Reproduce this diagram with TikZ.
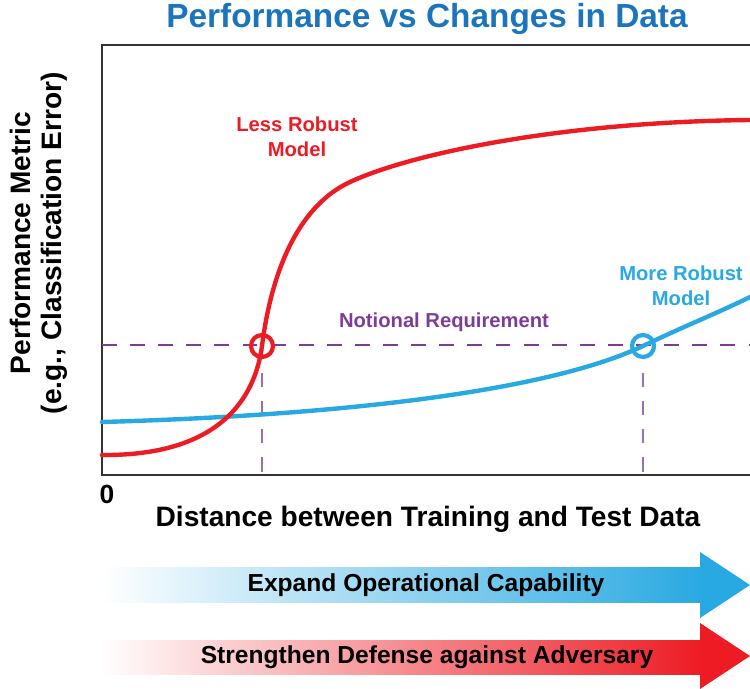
\documentclass[tikz,border=0pt]{standalone}
\usepackage{fontspec}
\setmainfont{Liberation Sans}
\definecolor{titleblue}{HTML}{1B75BC}
\definecolor{robblue}{HTML}{29A9E1}
\definecolor{lessred}{HTML}{ED1C24}
\definecolor{reqpurple}{HTML}{7D3C98}
\definecolor{axisgray}{HTML}{333333}
\tikzset{
  axisline/.style={axisgray, line width=1.7pt},
  curve/.style={line width=2.5pt, line cap=round},
  req/.style={reqpurple, line width=1.1pt, dash pattern=on 8.5pt off 7.5pt},
  reqdrop/.style={reqpurple!75, line width=0.8pt, dash pattern=on 8pt off 8pt, dash phase=8pt},
  ring/.style={circle, draw, line width=2.4pt, minimum size=0.44cm, inner sep=0pt},
  lbl/.style={font=\fontsize{11.5}{14}\selectfont\bfseries, align=center},
  big/.style={font=\fontsize{16}{17.5}\selectfont\bfseries},
  arrowtxt/.style={font=\fontsize{14}{16}\selectfont\bfseries},
}
\begin{document}
\begin{tikzpicture}[x=0.02cm, y=-0.02cm]
    \useasboundingbox (0,0) rectangle (750,689);

    \node[titleblue, font=\fontsize{19}{22}\selectfont\bfseries] (title) at (427,19) {Performance vs Changes in Data};

    % frame
    \coordinate (topR) at (750,45);
    \coordinate (topL) at (102,45);
    \coordinate (origin) at (102,475);
    \coordinate (botR) at (750,475);
    \draw[axisline] (topR) -- (topL) -- (origin) -- (botR);

    \node[big, rotate=90, align=center] (ylab) at (39,243) {Performance Metric\\(e.g., Classification Error)};
    \node[font=\fontsize{15}{17}\selectfont\bfseries] (zero) at (107,494) {0};
    \node[big] (xlab) at (428,519) {Distance between Training and Test Data};

    % requirement
    \coordinate (reqL) at (102,345);
    \coordinate (reqR) at (750,345);
    \draw[req] (reqL) -- (reqR);
    \node[lbl, reqpurple] (reqlab) at (444,322) {Notional Requirement};

    %%%%%%%%%%
    \node[ring, lessred] (lessring) at (262,346) {};
    \node[ring, robblue] (morering) at (643,346) {};
    \draw[reqdrop] (lessring.south) -- (lessring.south |- origin);
    \draw[reqdrop] (morering.south) -- (morering.south |- origin);

    \draw[curve, robblue] (102,422) .. controls (350,415) and (550,390) .. (morering.center)
        .. controls (680,328) and (720,312) .. (750,297);
    \draw[curve, lessred] (102,455) .. controls (220,456) and (255,398) .. (lessring.center)
        .. controls (269,290) and (290,210) .. (350,182)
        .. controls (410,154) and (560,122) .. (750,120);

    \node[lbl, lessred] (lesslab) at (297,137) {Less Robust\\Model};
    \node[lbl, robblue] (morelab) at (681,286) {More Robust\\Model};

    %%%%%%%%%%
    \shade[left color=white, right color=robblue] (100,567) rectangle (701,602);
    \fill[robblue] (700,552) -- (750,585) -- (700,618) -- cycle;
    \node[arrowtxt] (expand) at (426,585) {Expand Operational Capability};

    \shade[left color=white, right color=lessred] (100,640) rectangle (701,674);
    \fill[lessred] (700,623) -- (750,656) -- (700,689) -- cycle;
    \node[arrowtxt] (defense) at (427,657) {Strengthen Defense against Adversary};
\end{tikzpicture}
\end{document}
